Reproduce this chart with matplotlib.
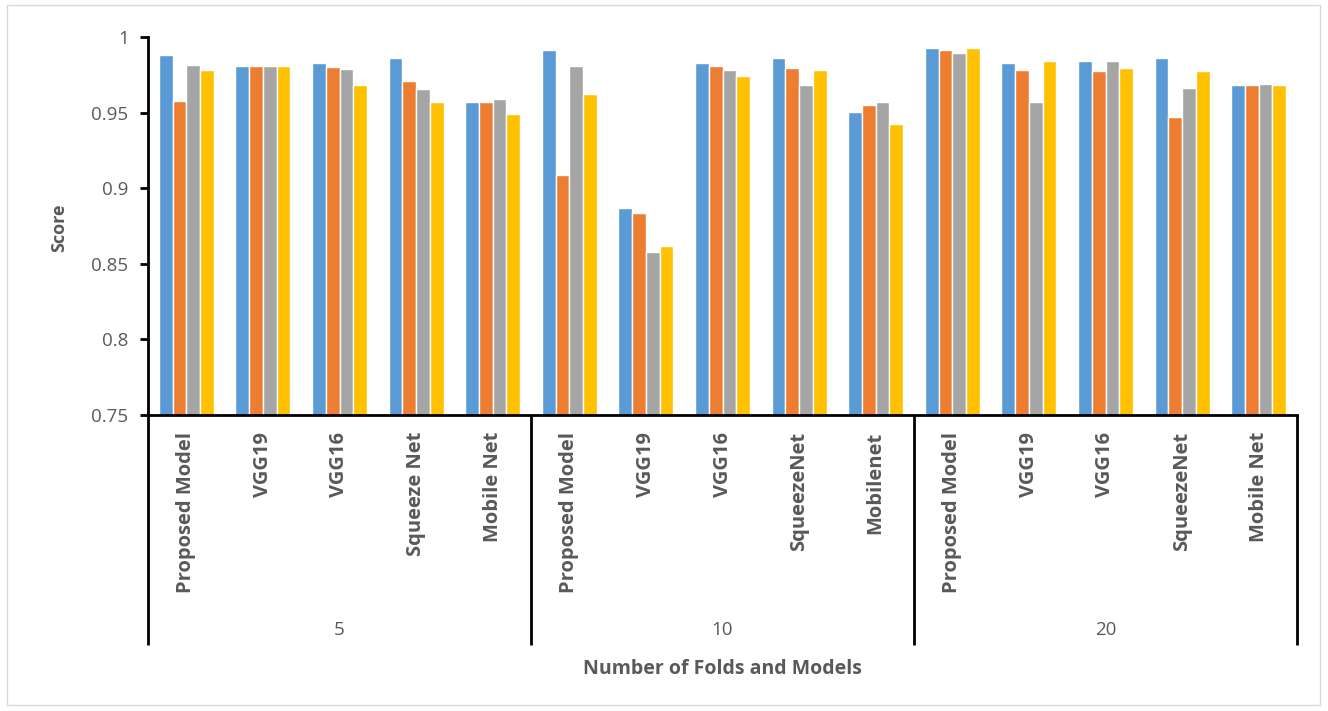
import numpy as np
import matplotlib.pyplot as plt
from matplotlib.patches import Rectangle

# Scores par modèle pour chaque nombre de folds (4 séries par modèle)
folds = ['5', '10', '20']
models_5 = ['Proposed Model', 'VGG19', 'VGG16', 'Squeeze Net', 'Mobile Net']
models_10 = ['Proposed Model', 'VGG19', 'VGG16', 'SqueezeNet', 'Mobilenet']
models_20 = ['Proposed Model', 'VGG19', 'VGG16', 'SqueezeNet', 'Mobile Net']

serie_bleue = [0.988, 0.981, 0.9827, 0.9864, 0.9573,
               0.9917, 0.887, 0.9827, 0.9864, 0.9507,
               0.993, 0.9827, 0.9838, 0.9864, 0.968]
serie_orange = [0.9575, 0.981, 0.980, 0.9708, 0.9573,
                0.9084, 0.8833, 0.981, 0.9798, 0.9547,
                0.9917, 0.9785, 0.9772, 0.9468, 0.968]
serie_grise = [0.9814, 0.981, 0.9787, 0.9655, 0.9587,
               0.9811, 0.858, 0.9785, 0.968, 0.9573,
               0.9893, 0.9573, 0.9838, 0.9666, 0.9692]
serie_jaune = [0.9785, 0.981, 0.968, 0.9573, 0.9494,
               0.9626, 0.8617, 0.9745, 0.9785, 0.9426,
               0.993, 0.9838, 0.9798, 0.9772, 0.968]

couleurs = ['#5B9BD5', '#ED7D31', '#A5A5A5', '#FFC000']
gris_texte = '#595959'
police = 'Open Sans'

fig = plt.figure(figsize=(13.28, 7.11), dpi=100)
ax = fig.add_axes([148 / 1328, 1 - 415 / 711, 1149 / 1328, 378 / 711])

labels = models_5 + models_10 + models_20
x = np.arange(len(labels))
largeur = 0.18
series = [serie_bleue, serie_orange, serie_grise, serie_jaune]
for k, (vals, c) in enumerate(zip(series, couleurs)):
    ax.bar(x + (k - 1.5) * largeur, vals, width=largeur, color=c,
           edgecolor='white', linewidth=1.0, zorder=2)

ax.set_xlim(-0.5, len(labels) - 0.5)
ax.set_ylim(0.75, 1.0)
ax.set_yticks([0.75, 0.8, 0.85, 0.9, 0.95, 1.0])
ax.set_yticklabels(['0.75', '0.8', '0.85', '0.9', '0.95', '1'])

for s in ['top', 'right']:
    ax.spines[s].set_visible(False)
for s in ['left', 'bottom']:
    ax.spines[s].set_linewidth(2)
    ax.spines[s].set_color('black')

ax.tick_params(axis='y', direction='out', length=6, width=2, color='black',
               labelsize=13.5, labelcolor=gris_texte, pad=8)
for t in ax.get_yticklabels():
    t.set_fontfamily(police)

ax.set_xticks(x)
ax.set_xticklabels(labels, rotation=90, fontsize=14.5, fontweight='bold',
                   color=gris_texte, fontfamily=police, va='top', ha='center')
ax.tick_params(axis='x', length=0, pad=12)

# Séparateurs entre groupes de folds sous l'axe
trans = ax.get_xaxis_transform()
bas = -230 / 378
for xs in [-0.5, 4.5, 9.5, 14.5]:
    ax.plot([xs, xs], [0, bas], transform=trans, color='black', lw=2,
            clip_on=False, solid_capstyle='butt')

for i, f in enumerate(folds):
    ax.text(i * 5 + 2, -215 / 378, f, transform=trans, ha='center',
            va='center', fontsize=13.5, color=gris_texte, fontfamily=police)

ax.set_ylabel('Score', fontsize=13, fontweight='bold', color=gris_texte,
              fontfamily=police)
ax.yaxis.set_label_coords(-80 / 1149, 0.495)

fig.text(722 / 1328, 1 - 669 / 711, 'Number of Folds and Models',
         ha='center', va='center', fontsize=14, fontweight='bold',
         color=gris_texte, fontfamily=police)

# Cadre autour de la zone du graphique
fig.patches.append(Rectangle((7 / 1328, 6 / 711), 1313 / 1328, 700 / 711,
                             transform=fig.transFigure, fill=False,
                             edgecolor='#D9D9D9', linewidth=1))

fig.savefig('out.png', dpi=100)
